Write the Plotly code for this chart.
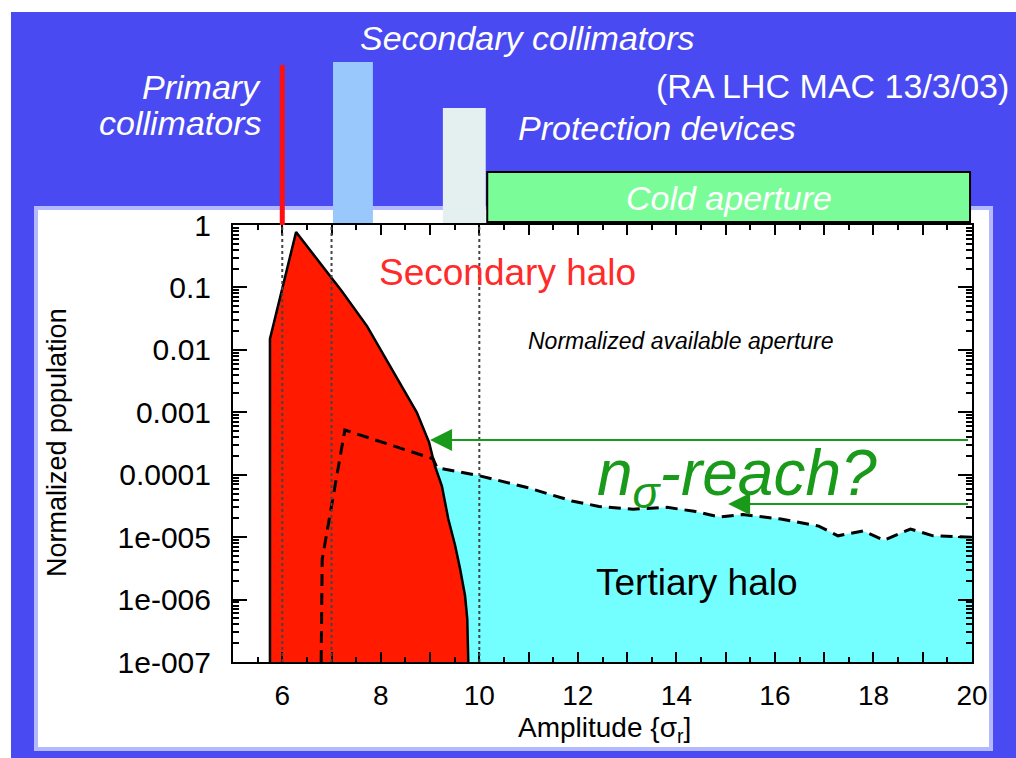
import math
import plotly.graph_objects as go

# ---------------- data ----------------
# Secondary halo (red) outline: amplitude [sigma] vs normalized population
sec_x = [5.75, 5.75, 6.28, 7.01, 7.21, 7.72, 8.25, 8.73, 8.98, 9.10, 9.24, 9.37, 9.51,
         9.61, 9.71, 9.755, 9.776]
sec_y = [1e-7, 0.015, 0.77, 0.136, 0.087, 0.024, 0.0044, 0.001, 3.3e-4, 1.37e-4, 6.6e-5,
         1.95e-5, 7.3e-6, 3.1e-6, 1.15e-6, 4.9e-7, 1e-7]

# Tertiary halo / normalized available aperture (dashed curve)
ter_x = [6.79, 6.81, 7.27, 9.06, 9.14, 10.03, 10.95, 11.41, 11.88, 12.43, 13.12, 13.81, 14.36,
         14.88, 15.35, 16.12, 16.89, 17.28, 17.79, 18.21, 18.75, 19.21, 19.92, 20.0]
ter_y = [1e-7, 4.4e-6, 5.2e-4, 1.8e-4, 1.3e-4, 9.5e-5, 6.3e-5, 4.9e-5, 3.8e-5, 3.1e-5, 2.8e-5,
         3.0e-5, 2.6e-5, 2.1e-5, 2.3e-5, 1.95e-5, 1.5e-5, 1.05e-5, 1.26e-5, 8.9e-6, 1.35e-5,
         1.05e-5, 1.0e-5, 1.0e-5]

# Collimator / aperture positions in sigma
primary_pos = 6.0
secondary_span = [7.03, 7.84]
protection_span = [9.26, 10.13]
cold_span = [10.16, 19.96]
aperture_lines = [6, 7, 10]

y_tickvals = [1, 0.1, 0.01, 0.001, 0.0001, 1e-5, 1e-6, 1e-7]
y_ticktext = ["1", "0.1", "0.01", "0.001", "0.0001", "1e-005", "1e-006", "1e-007"]
x_tickvals = list(range(5, 21))
x_ticktext = [str(v) if v % 2 == 0 and v > 5 else "" for v in x_tickvals]

# ---------------- layout helpers ----------------
W, H = 1016, 758
L, R, T, B = 233, 44, 225, 96
PW, PH = W - L - R, H - T - B


def X(px):
    return (px - L) / PW


def Y(py):
    return (H - B - py) / PH


FONT = "Liberation Sans, Arial, Helvetica, sans-serif"
BLUE = "#4a4af2"
RED = "#ff1a00"
CYAN = "#73ffff"
GREEN = "#1a9a1a"

fig = go.Figure()

# tertiary halo fill
fig.add_trace(go.Scatter(
    x=ter_x + [ter_x[-1], ter_x[0]], y=ter_y + [1e-7, 1e-7],
    fill="toself", fillcolor=CYAN, mode="none", hoverinfo="skip", showlegend=False))
# secondary halo fill
fig.add_trace(go.Scatter(
    x=sec_x, y=sec_y, fill="toself", fillcolor=RED, mode="lines",
    line=dict(color="black", width=2.5), hoverinfo="skip", showlegend=False))
# dashed aperture curve
fig.add_trace(go.Scatter(
    x=ter_x, y=ter_y, mode="lines",
    line=dict(color="black", width=3, dash="12px,7px"), hoverinfo="skip", showlegend=False))

shapes = []
# blue slide background and white panel
shapes.append(dict(type="rect", xref="paper", yref="paper", x0=X(11), x1=X(1016), y0=Y(12), y1=Y(758),
                   fillcolor=BLUE, line=dict(width=0), layer="below"))
shapes.append(dict(type="rect", xref="paper", yref="paper", x0=X(36), x1=X(991), y0=Y(208), y1=Y(749),
                   fillcolor="white", line=dict(color="#b4b8ff", width=4), layer="below"))
# collimator bars above the plot
shapes.append(dict(type="rect", xref="x", yref="paper", x0=secondary_span[0], x1=secondary_span[1],
                   y0=Y(223), y1=Y(62), fillcolor="#98c8fc", line=dict(width=0), layer="above"))
shapes.append(dict(type="rect", xref="x", yref="paper", x0=protection_span[0], x1=protection_span[1],
                   y0=Y(223), y1=Y(108), fillcolor="#e4f0f0", line=dict(width=0), layer="above"))
shapes.append(dict(type="rect", xref="x", yref="paper", x0=cold_span[0], x1=cold_span[1],
                   y0=Y(222), y1=Y(172), fillcolor="#7afc98", line=dict(color="black", width=2),
                   layer="above"))
shapes.append(dict(type="line", xref="x", yref="paper", x0=primary_pos, x1=primary_pos,
                   y0=1.0, y1=Y(65), line=dict(color="#ff1010", width=5), layer="above"))
# dotted aperture lines
for xv in aperture_lines:
    shapes.append(dict(type="line", xref="x", yref="paper", x0=xv, x1=xv, y0=0, y1=1,
                       line=dict(color="#444444", width=2, dash="dot"), layer="above"))

ann = []


def txt(text, px, py, size, color="white", xanchor="center", italic=False):
    if italic:
        text = "<i>" + text + "</i>"
    ann.append(dict(text=text, x=X(px), y=Y(py), xref="paper", yref="paper", showarrow=False,
                    xanchor=xanchor, yanchor="middle", font=dict(family=FONT, size=size, color=color)))


txt("Secondary collimators", 527, 38, 34, italic=True)
txt("Primary", 263, 87, 34, xanchor="right", italic=True)
txt("collimators", 263, 123, 34, xanchor="right", italic=True)
txt("(RA LHC MAC 13/3/03)", 1011, 86, 34, xanchor="right")
txt("Protection devices", 657, 128, 34, italic=True)
txt("Cold aperture", 729, 198, 34, italic=True)
txt("Secondary halo", 507, 272, 37, color="#ff2a2a")
txt("Normalized available aperture", 681, 341, 23, color="black", italic=True)
txt("Tertiary halo", 697, 582, 37, color="black")
txt("n<sub>σ</sub>-reach?", 737, 477, 64, color=GREEN, italic=True)
txt("Amplitude {σ<sub>r</sub>]", 604, 729, 28, color="black")
ann.append(dict(text="Normalized population", x=X(57), y=Y(443), xref="paper", yref="paper",
                showarrow=False, textangle=-90, xanchor="center", yanchor="middle",
                font=dict(family=FONT, size=27, color="black")))

# green arrows
for (hx, hy, tx) in [(9.0, 3.6e-4, 19.95), (15.05, 3.4e-5, 19.95)]:
    ann.append(dict(x=hx, y=math.log10(hy), ax=tx, ay=math.log10(hy), xref="x", yref="y",
                    axref="x", ayref="y", showarrow=True, arrowhead=2, arrowsize=2.2,
                    arrowwidth=2, arrowcolor=GREEN, text=""))

fig.update_layout(
    width=W, height=H, margin=dict(l=L, r=R, t=T, b=B),
    paper_bgcolor="white", plot_bgcolor="rgba(0,0,0,0)",
    shapes=shapes, annotations=ann, showlegend=False,
    xaxis=dict(range=[5, 20], tickvals=x_tickvals, ticktext=x_ticktext, ticks="inside", ticklen=10,
               tickwidth=1.5, tickcolor="black", showgrid=False, zeroline=False, showline=True,
               linecolor="black", linewidth=2, mirror="allticks", ticklabelstandoff=7,
               tickfont=dict(family=FONT, size=28, color="black"),
               minor=dict(dtick=0.5, ticks="inside", ticklen=5, tickcolor="black", showgrid=False)),
    yaxis=dict(type="log", range=[-7, 0], tickvals=y_tickvals, ticktext=y_ticktext, ticks="inside",
               ticklen=14, tickwidth=1.5, tickcolor="black", showgrid=False, zeroline=False,
               showline=True, linecolor="black", linewidth=2, mirror="allticks",
               ticklabelstandoff=14, tickfont=dict(family=FONT, size=30, color="black"),
               minor=dict(dtick="D1", ticks="inside", ticklen=6, tickcolor="black", showgrid=False)),
)

fig.write_html("out.html")
